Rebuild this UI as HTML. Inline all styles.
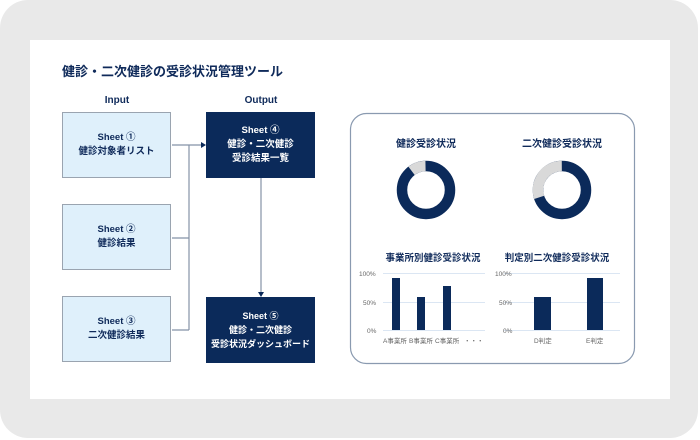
<!DOCTYPE html>
<html><head><meta charset="utf-8"><style>
html,body{margin:0;padding:0;background:#fff;}
body{width:700px;height:440px;position:relative;overflow:hidden;font-family:"Liberation Sans","Noto Sans CJK JP",sans-serif;}
.outer{position:absolute;left:0;top:0;width:698px;height:438px;background:#e9e9e9;border-radius:28px;}
.slide{position:absolute;left:30px;top:40px;width:640px;height:359px;background:#fff;}
.t{position:absolute;font-weight:bold;color:#0f2a5a;white-space:nowrap;}
.box{position:absolute;width:109px;height:66px;box-sizing:border-box;display:flex;flex-direction:column;justify-content:center;align-items:center;font-weight:bold;font-size:9.5px;line-height:14px;text-align:center;white-space:nowrap;}
.in{background:#dff0fb;border:1px solid #9aa4b0;color:#0f2a5a;}
.out{background:#0b2a5a;color:#fff;}
</style></head><body>
<div class="outer"></div>
<div class="slide"></div>
<div class="t" style="left:62px;top:61px;font-size:13px;">健診・二次健診の受診状況管理ツール</div>
<div class="t" style="left:62px;top:95px;width:110px;text-align:center;font-size:10px;">Input</div>
<div class="t" style="left:206px;top:95px;width:110px;text-align:center;font-size:10px;">Output</div>
<div class="box in" style="left:62px;top:112px;"><div>Sheet ①</div><div>健診対象者リスト</div></div>
<div class="box in" style="left:62px;top:204px;"><div>Sheet ②</div><div>健診結果</div></div>
<div class="box in" style="left:62px;top:296px;"><div>Sheet ③</div><div>二次健診結果</div></div>
<div class="box out" style="left:206px;top:112px;"><div>Sheet ④</div><div>健診・二次健診</div><div>受診結果一覧</div></div>
<div class="box out" style="left:206px;top:297px;font-size:9px;"><div>Sheet ⑤</div><div>健診・二次健診</div><div>受診状況ダッシュボード</div></div>
<svg width="700" height="440" style="position:absolute;left:0;top:0">
<g stroke="#8592a6" stroke-width="1.2" fill="none">
<path d="M172 145H203M189 145V330M172 238H189M172 330H189M261 178V294"/>
</g>
<path d="M206 145l-5 -3v6z" fill="#0b2a5a"/>
<path d="M261 297l-3 -5h6z" fill="#0b2a5a"/>
<rect x="350.5" y="113.5" width="284" height="250" rx="16" fill="#fff" stroke="#8a9ab0" stroke-width="1.2"/>
<g font-family="Liberation Sans,Noto Sans CJK JP,sans-serif" font-weight="bold" fill="#0f2a5a" font-size="10" text-anchor="middle">
<text x="426" y="147">健診受診状況</text>
<text x="562" y="147">二次健診受診状況</text>
<text x="433" y="261" font-size="9.5">事業所別健診受診状況</text>
<text x="557" y="261" font-size="9.5">判定別二次健診受診状況</text>
</g>
<g fill="none" stroke-width="10.5">
<circle cx="426" cy="190" r="24" stroke="#0b2a5a"/>
<circle cx="426" cy="190" r="24" stroke="#d9d9d9" stroke-dasharray="15 200" transform="rotate(-127 426 190)"/>
<circle cx="562" cy="190" r="24" stroke="#0b2a5a"/>
<circle cx="562" cy="190" r="24" stroke="#d9d9d9" stroke-dasharray="45 200" transform="rotate(-198 562 190)"/>
</g>
<g stroke="#dbe6f3" stroke-width="1">
<path d="M383 273.5H485M383 302.5H485M383 330.5H485M504 273.5H620M504 302.5H620M504 330.5H620"/>
</g>
<g fill="#0b2a5a">
<rect x="392" y="278" width="8" height="52"/>
<rect x="417" y="297" width="8" height="33"/>
<rect x="443" y="286" width="8" height="44"/>
<rect x="534" y="297" width="17" height="33"/>
<rect x="587" y="278" width="16" height="52"/>
</g>
<g font-family="Liberation Sans,Noto Sans CJK JP,sans-serif" fill="#666" font-size="6.5">
<text x="359" y="276">100%</text><text x="363" y="305">50%</text><text x="367" y="333">0%</text>
<text x="495" y="276">100%</text><text x="499" y="305">50%</text><text x="503" y="333">0%</text>
<text x="383" y="343">A事業所</text><text x="409" y="343">B事業所</text><text x="435" y="343">C事業所</text><text x="464" y="343">・・・</text>
<text x="534" y="343">D判定</text><text x="586" y="343">E判定</text>
</g>
</svg>
</body></html>
